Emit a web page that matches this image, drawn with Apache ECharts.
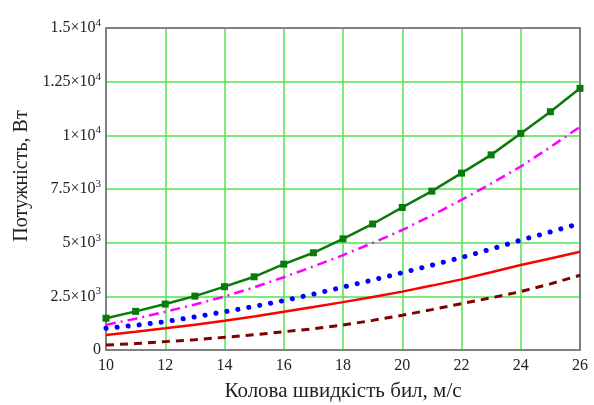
<!DOCTYPE html>
<html><head><meta charset="utf-8">
<script src="https://cdn.jsdelivr.net/npm/echarts@6/dist/echarts.min.js"></script>
<style>html,body{margin:0;padding:0;background:#fff}#c{width:594px;height:405px}</style>
</head><body><div id="c"></div>
<script>
const speeds = [10,11,12,13,14,15,16,17,18,19,20,21,22,23,24,25,26];
const greenVals   = [1480,1800,2140,2510,2950,3410,4000,4530,5180,5870,6640,7400,8240,9090,10090,11100,12190];
const magentaVals = [1170,1460,1780,2120,2490,2920,3390,3890,4420,4990,5590,6270,6990,7750,8550,9450,10400];
const blueVals    = [1010,1150,1320,1540,1780,2030,2300,2600,2930,3260,3600,3950,4310,4700,5120,5500,5900];
const redVals     = [700,850,1010,1180,1360,1560,1780,2000,2230,2470,2720,3000,3290,3620,3960,4260,4580];
const darkVals    = [230,300,390,480,590,710,850,990,1160,1380,1620,1880,2160,2430,2720,3080,3480];
const yTickLabels = {0:'0',2500:'2.5×10{s|3}',5000:'5×10{s|3}',7500:'7.5×10{s|3}',10000:'1×10{s|4}',12500:'1.25×10{s|4}',15000:'1.5×10{s|4}'};
const xName = 'Колова швидкість бил, м/с';
const yName = 'Потужність, Вт';

const pair = v => speeds.map((x,i)=>[x,v[i]]);
const font = 'Liberation Serif';
const frame = {show:true,onZero:false,lineStyle:{color:'#808080',width:2}};
const chart = echarts.init(document.getElementById('c'));
chart.setOption({
  animation:false,
  grid:{left:106,right:14,top:28,bottom:55,outerBoundsMode:'none',containLabel:false},
  xAxis:[{type:'value',min:10,max:26,interval:2,
    axisLine:frame,axisTick:{show:false},
    splitLine:{show:true,lineStyle:{color:'#4ee44e',width:1.5}},
    axisLabel:{fontFamily:font,fontSize:16,color:'#222',margin:8},
    name:xName,nameLocation:'middle',nameGap:31,
    nameTextStyle:{fontFamily:font,fontSize:21,color:'#222'}},
    {type:'value',position:'top',min:10,max:26,interval:2,axisLine:frame,axisTick:{show:false},axisLabel:{show:false},splitLine:{show:false}}],
  yAxis:[{type:'value',min:0,max:15000,interval:2500,
    axisLine:frame,axisTick:{show:false},
    splitLine:{show:true,lineStyle:{color:'#4ee44e',width:1.5}},
    axisLabel:{fontFamily:font,fontSize:16,color:'#222',margin:5,
      formatter:v=>yTickLabels[v]||'',
      rich:{s:{fontFamily:font,fontSize:11,color:'#222',padding:[0,0,10,0]}}},
    name:yName,nameLocation:'middle',nameGap:74,nameRotate:90,
    nameTextStyle:{fontFamily:font,fontSize:20,color:'#222',padding:[0,0,0,26]}},
    {type:'value',position:'right',min:0,max:15000,interval:2500,axisLine:frame,axisTick:{show:false},axisLabel:{show:false},splitLine:{show:false}}],
  series:[
    {type:'line',data:pair(darkVals),symbol:'none',lineStyle:{color:'#800000',width:3,type:[8,6]},z:2},
    {type:'line',data:pair(redVals),symbol:'none',lineStyle:{color:'#ff0000',width:2.5},z:3},
    {type:'line',data:pair(blueVals),symbol:'none',lineStyle:{color:'#0000ff',width:5,type:[0.1,11],cap:'round'},z:4},
    {type:'line',data:pair(magentaVals),symbol:'none',lineStyle:{color:'#ff00ff',width:2.5,type:[10,5,2,5]},z:5},
    {type:'line',data:pair(greenVals),symbol:'rect',symbolSize:7,itemStyle:{color:'#0a7a0a'},lineStyle:{color:'#0a7a0a',width:2.5},z:6}
  ]
});
</script></body></html>
